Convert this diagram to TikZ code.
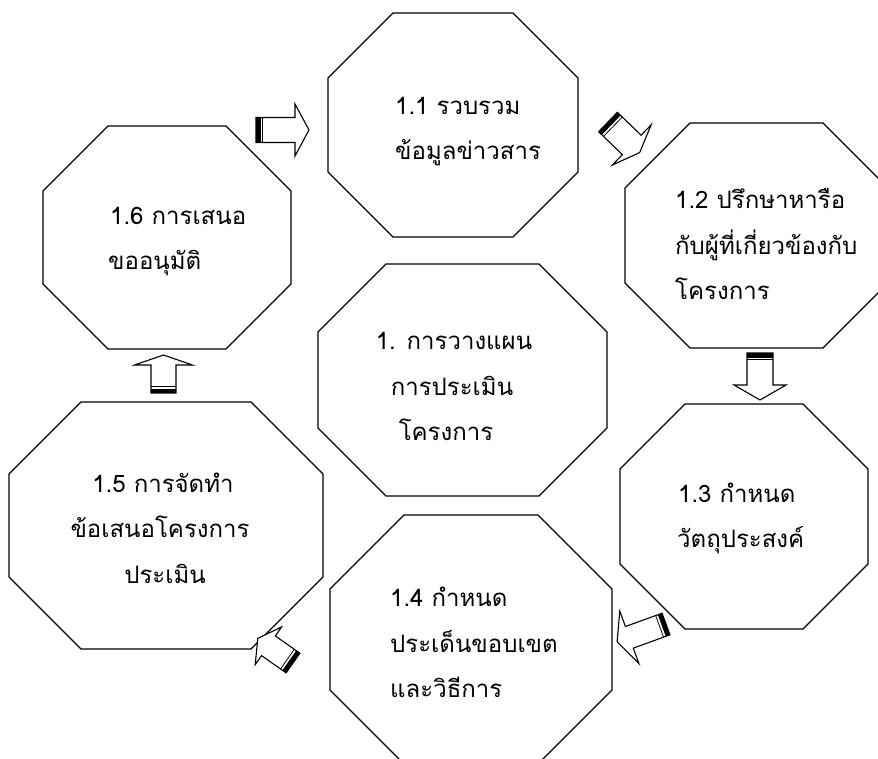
\documentclass[tikz,border=0pt]{standalone}
\usepackage{fontspec}
\newfontfamily\thaifont[Script=Thai]{Loma}
\tikzset{
  octa/.style={draw=black, line width=1.3pt, fill=white, line join=miter},
  arrowline/.style={draw=black, line width=1.1pt, fill=white, line join=miter},
  lbl/.style={font=\thaifont\fontsize{24}{30}\selectfont, inner sep=0pt, anchor=base west},
  clbl/.style={font=\thaifont\fontsize{24}{30}\selectfont, inner sep=0pt, anchor=base},
}
% #1 x1, #2 y1, #3 x2, #4 y2, #5 corner cut
\newcommand\octapath[5]{%
  \draw[octa] ({#1+#5},#2) -- ({#3-#5},#2) -- (#3,{#2+#5}) -- (#3,{#4-#5}) -- ({#3-#5},#4)
    -- ({#1+#5},#4) -- (#1,{#4-#5}) -- (#1,{#2+#5}) -- cycle;}
% #1 tail point, #2 angle, #3 length, #4 head length, #5 half shaft, #6 half head
\newcommand\striparrow[6]{%
  \begin{scope}[shift={#1}, rotate=#2]
    \draw[arrowline] (0,-#5) -- ({#3-#4},-#5) -- ({#3-#4},-#6) -- (#3,0) -- ({#3-#4},#6)
      -- ({#3-#4},#5) -- (0,#5) -- cycle;
    \fill[black] (0,-#5) rectangle (4.5,#5);
    \draw[line width=0.8pt] (6.8,-#5) -- (6.8,#5);
  \end{scope}}
\begin{document}
\begin{tikzpicture}[x=1pt,y=-1pt]
\useasboundingbox (0,0) rectangle (878,759);
\fill[white] (0,0) rectangle (878,759);
\clip (0,0) rectangle (878,759);
% octagons
\octapath{328}{13}{578}{237}{65}
\octapath{625}{123}{888}{348}{65}
\octapath{43}{126}{291}{349}{65}
\octapath{318}{264}{607}{496}{68}
\octapath{9}{402}{323}{649}{72}
\octapath{620}{404}{868}{629}{65}
\octapath{330}{515}{612}{764}{74}
% labels
\node[lbl] (t11a) at (395,115) {1.1 รวบรวม};
\node[lbl] (t11b) at (395,160) {ข้อมูลข่าวสาร};
\node[lbl] (t12a) at (675,209) {1.2 ปรึกษาหารือ};
\node[lbl] (t12b) at (675,255) {กับผู้ที่เกี่ยวข้องกับ};
\node[lbl] (t12c) at (675,300) {โครงการ};
\node[lbl] (t16a) at (110,225) {1.6 การเสนอ};
\node[lbl] (t16b) at (108,270) {ขออนุมัติ};
\node[clbl] (t1a) at (454,349) {1. การวางแผน};
\node[clbl] (t1b) at (452,395) {การประเมิน};
\node[clbl] (t1c) at (446,440) {โครงการ};
\node[clbl] (t15a) at (163,492) {1.5 การจัดทำ};
\node[clbl] (t15b) at (160,537) {ข้อเสนอโครงการ};
\node[clbl] (t15c) at (165,583) {ประเมิน};
\node[lbl] (t13a) at (678,502) {1.3 กำหนด};
\node[lbl] (t13b) at (677,547) {วัตถุประสงค์};
\node[lbl] (t14a) at (390,606) {1.4 กำหนด};
\node[lbl] (t14b) at (390,652) {ประเด็นขอบเขต};
\node[lbl] (t14c) at (390,697) {และวิธีการ};
% arrows
\striparrow{(256,130)}{0}{53}{14}{12.5}{26}
\striparrow{(608,122)}{-44}{44}{11}{13.5}{28}
\striparrow{(760,353)}{-90}{47}{15}{13}{26}
\striparrow{(666,624)}{200}{52}{13}{11.5}{28}
\striparrow{(293,663)}{145}{43}{13}{12}{23}
\striparrow{(163.5,393)}{90}{38}{10}{12.5}{29}
\end{tikzpicture}
\end{document}
